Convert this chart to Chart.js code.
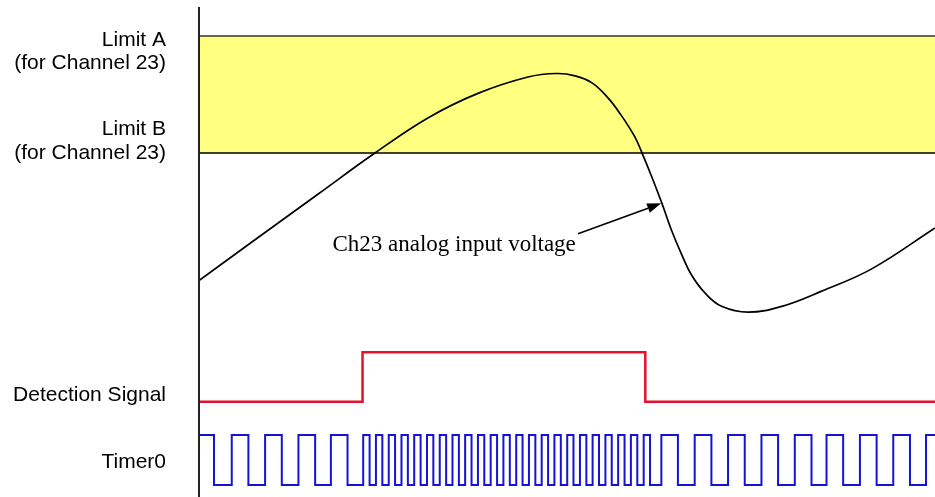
<!DOCTYPE html>
<html>
<head>
<meta charset="utf-8">
<title>Ch23 limit detection timing</title>
<script src="https://cdn.jsdelivr.net/npm/chart.js@4.4.1/dist/chart.umd.min.js"></script>
<style>
    html, body { margin: 0; padding: 0; background: #ffffff; }
    #timing-chart { display: block; }
</style>
</head>
<body>
<canvas id="timing-chart" width="935" height="497"></canvas>
<script>
// Time runs 0..100 across the plot (arbitrary units)

// Limits for channel 23 (volts)
const limitA = 4.0;
const limitB = 3.0;

// Ch23 analog input voltage
const analogTime  = [0, 8.5, 16.2, 23.9, 31.1, 37.9, 44.7, 48.6, 51.1, 53.4, 55.6, 57.4, 59.2, 60.2, 61.5, 62.9, 64.2, 65.6, 66.9, 68.8, 71.0, 74.6, 79.2, 84.6, 91.4, 100];
const analogVolts = [1.91, 2.30, 2.65, 3.00, 3.30, 3.51, 3.65, 3.68, 3.66, 3.60, 3.47, 3.32, 3.14, 3.00, 2.80, 2.57, 2.34, 2.13, 1.96, 1.80, 1.69, 1.64, 1.69, 1.82, 2.01, 2.36];

// Detection signal: starts low, toggles at these times
const detectionEdges = [22.22, 60.64];

// Timer0: starts high, toggles at these times
const timerEdges = [
    2.04, 4.45, 6.71, 8.98, 11.25, 13.51, 15.78, 17.92, 20.18,
    22.31, 23.18, 24.04, 24.91, 25.78, 26.64, 27.51, 28.38, 29.24, 30.11,
    30.98, 31.84, 32.71, 33.58, 34.44, 35.31, 36.16, 37.03, 37.90, 38.76,
    39.63, 40.50, 41.36, 42.23, 43.10, 43.96, 44.83, 45.70, 46.56, 47.43,
    48.29, 49.16, 50.03, 50.88, 51.76, 52.63, 53.48, 54.35, 55.22, 56.08,
    56.95, 57.82, 58.68, 59.55, 60.42, 61.28,
    62.82, 65.07, 67.35, 69.62, 71.88, 74.15, 76.42, 78.68, 80.95, 83.22,
    85.26, 87.52, 89.80, 92.07, 94.33, 96.60, 98.78
];

// Text
const sideLabels = [
    ['Limit A', '(for Channel 23)'],
    ['Limit B', '(for Channel 23)'],
    ['Detection Signal'],
    ['Timer0']
];
const curveLabel = 'Ch23 analog input voltage';
// where the callout text ends and where its arrow points (time, volts)
const calloutText = [51.2, 2.16];
const calloutArrow = [[51.5, 2.31], [62.8, 2.57]];

// Turn a list of toggle times into points for a stepped line
function toSteps(edges, startLevel) {
    const pts = [{ x: 0, y: startLevel }];
    let level = startLevel;
    edges.forEach(t => {
        level = 1 - level;
        pts.push({ x: t, y: level });
    });
    pts.push({ x: 100, y: level });
    return pts;
}

// Left-hand labels plus the callout on the curve
const annotationPlugin = {
    id: 'timingText',
    afterDatasetsDraw(chart, args, opts) {
        const ctx = chart.ctx;
        const xs = chart.scales.x;
        const yV = chart.scales.yV;

        ctx.save();
        ctx.fillStyle = '#000';
        ctx.font = '21px "Liberation Sans", Arial, sans-serif';
        ctx.textAlign = 'right';
        ctx.textBaseline = 'alphabetic';
        const lx = chart.chartArea.left - opts.labelGap;
        opts.anchors.forEach((a, i) => {
            const y0 = chart.scales[a.axis].getPixelForValue(a.value) + a.dy;
            sideLabels[i].forEach((line, j) => {
                ctx.fillText(line, lx, y0 + j * opts.lineHeight);
            });
        });

        // callout text
        ctx.font = '23px "Liberation Serif", "Times New Roman", serif';
        ctx.fillText(curveLabel, xs.getPixelForValue(calloutText[0]), yV.getPixelForValue(calloutText[1]));

        // callout arrow
        const x1 = xs.getPixelForValue(calloutArrow[0][0]);
        const y1 = yV.getPixelForValue(calloutArrow[0][1]);
        const x2 = xs.getPixelForValue(calloutArrow[1][0]);
        const y2 = yV.getPixelForValue(calloutArrow[1][1]);
        const ang = Math.atan2(y2 - y1, x2 - x1);
        const head = 14;
        const half = 5;
        const bx = x2 - head * Math.cos(ang);
        const by = y2 - head * Math.sin(ang);
        ctx.strokeStyle = '#000';
        ctx.lineWidth = 1.5;
        ctx.beginPath();
        ctx.moveTo(x1, y1);
        ctx.lineTo(bx, by);
        ctx.stroke();
        ctx.beginPath();
        ctx.moveTo(x2, y2);
        ctx.lineTo(bx + half * Math.sin(ang), by - half * Math.cos(ang));
        ctx.lineTo(bx - half * Math.sin(ang), by + half * Math.cos(ang));
        ctx.closePath();
        ctx.fill();
        ctx.restore();
    }
};

const ctx = document.getElementById('timing-chart');

new Chart(ctx, {
    type: 'line',
    data: {
        datasets: [
            {
                label: 'Limit A',
                data: [{ x: 0, y: limitA }, { x: 100, y: limitA }],
                yAxisID: 'yV',
                borderColor: '#333333',
                borderWidth: 1.5,
                backgroundColor: '#FFFF80',
                fill: '+1',
                pointRadius: 0,
                order: 3
            },
            {
                label: 'Limit B',
                data: [{ x: 0, y: limitB }, { x: 100, y: limitB }],
                yAxisID: 'yV',
                borderColor: '#000000',
                borderWidth: 1.5,
                fill: false,
                pointRadius: 0,
                order: 3
            },
            {
                label: curveLabel,
                data: analogTime.map((t, i) => ({ x: t, y: analogVolts[i] })),
                yAxisID: 'yV',
                borderColor: '#000000',
                borderWidth: 1.7,
                tension: 0.4,
                fill: false,
                pointRadius: 0,
                order: 0
            },
            {
                label: 'Detection Signal',
                data: toSteps(detectionEdges, 0),
                yAxisID: 'yDet',
                borderColor: '#E5102D',
                borderWidth: 2.5,
                stepped: true,
                fill: false,
                pointRadius: 0,
                order: 1
            },
            {
                label: 'Timer0',
                data: toSteps(timerEdges, 1),
                yAxisID: 'yT',
                borderColor: '#1414D2',
                borderWidth: 2,
                stepped: true,
                fill: false,
                pointRadius: 0,
                order: 1
            }
        ]
    },
    options: {
        responsive: false,
        devicePixelRatio: 1,
        animation: false,
        layout: {
            padding: { left: 199, top: 8, right: 0, bottom: 0 }
        },
        plugins: {
            legend: { display: false },
            tooltip: { enabled: false },
            filler: { propagate: false, drawTime: 'beforeDatasetsDraw' },
            timingText: {
                labelGap: 33,
                lineHeight: 23.5,
                anchors: [
                    { axis: 'yV', value: limitA, dy: 9.7 },
                    { axis: 'yV', value: limitB, dy: -18 },
                    { axis: 'yDet', value: 0, dy: -1 },
                    { axis: 'yT', value: 0, dy: -17 }
                ]
            }
        },
        scales: {
            x: {
                type: 'linear',
                min: 0,
                max: 100,
                display: false
            },
            // analog voltage band at the top
            yV: {
                type: 'linear',
                position: 'left',
                min: 0.06,
                max: 4.24,
                grid: { display: false, drawTicks: false },
                ticks: { display: false },
                border: { display: true, color: '#222222', width: 2, z: 1 }
            },
            // detection signal, 0/1
            yDet: {
                type: 'linear',
                min: -1.93,
                max: 7.97,
                display: false
            },
            // timer output, 0/1
            yT: {
                type: 'linear',
                min: -0.24,
                max: 9.54,
                display: false
            }
        }
    },
    plugins: [annotationPlugin]
});
</script>
</body>
</html>
